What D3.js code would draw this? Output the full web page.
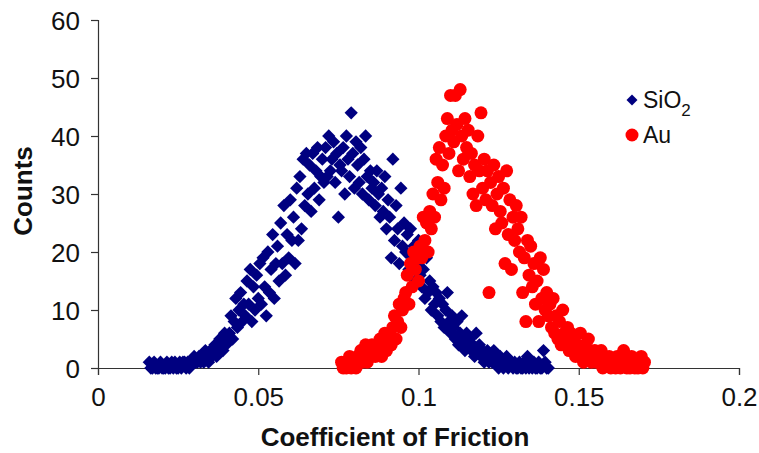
<!DOCTYPE html>
<html>
<head>
<meta charset="utf-8">
<script src="https://cdnjs.cloudflare.com/ajax/libs/d3/7.8.5/d3.min.js"></script>
<style>
  body { margin: 0; background: #fff; }
  text { font-family: "Liberation Sans", Arial, sans-serif; }
</style>
</head>
<body>
<div id="plot"></div>
<script>
// histogram bins (coefficient of friction), bin width
var binWidth = 0.0005;
var sio2Start = 0.016;
var auStart = 0.076;

var xTicks = [0, 0.05, 0.1, 0.15, 0.2];
var yTicks = [0, 10, 20, 30, 40, 50, 60];

// SiO2 counts, 0.016 .. 0.1405
var sio2Counts = [
  1,0,0,1,0,0,0,1,0,0,
  0,1,0,0,1,0,1,0,0,1,
  0,1,1,0,1,0,1,1,2,1,
  1,2,1,2,1,3,2,1,3,2,
  3,4,2,3,5,4,3,6,4,5,
  6,9,5,8,12,7,10,13,8,11,
  9,15,11,17,8,14,10,16,12,18,
  11,19,14,9,20,13,17,23,12,18,
  21,15,25,18,28,16,23,19,29,22,
  26,18,31,22,33,24,36,28,37,30,
  35,27,37,31,34,38,29,33,36,32,
  38,33,40,34,36,39,32,37,26,35,
  34,38,30,40,36,33,44,37,31,39,
  35,32,38,30,36,40,33,29,34,31,
  32,28,34,30,26,31,27,33,24,29,
  26,19,36,22,28,24,18,31,21,25,
  20,23,17,24,19,21,15,18,22,16,
  14,17,12,19,13,15,10,14,11,13,
  9,12,8,11,7,10,13,8,6,9,
  7,5,8,4,6,9,5,3,6,4,
  5,3,4,2,6,3,4,2,3,1,
  2,3,1,2,1,3,2,1,0,2,
  1,0,1,2,0,1,1,0,1,0,
  0,1,0,0,1,0,2,0,1,0,
  1,0,0,1,0,0,3,1,0,0
];

// Au counts, 0.076 .. 0.1705
var auCounts = [
  1,0,1,0,1,2,0,1,1,0,
  2,1,3,1,2,4,1,3,2,4,
  3,2,4,3,5,2,4,6,3,5,
  6,4,7,9,5,8,11,7,10,12,
  13,16,11,18,14,20,17,19,15,21,
  19,26,22,25,20,27,24,30,26,36,
  32,38,29,35,31,40,43,37,47,41,
  39,47,42,34,48,40,36,43,38,41,
  33,37,30,35,28,40,34,44,31,36,
  29,34,13,32,28,35,24,30,33,27,
  25,31,18,34,23,29,17,26,22,28,
  24,20,26,13,19,8,22,16,21,14,
  18,11,15,8,19,12,17,10,13,9,
  11,7,12,6,9,5,8,4,10,6,
  5,7,3,6,4,5,2,4,3,6,
  3,1,4,2,5,3,1,2,3,1,
  2,1,3,0,2,1,1,2,0,1,
  1,0,2,1,0,1,3,1,0,1,
  0,2,1,0,1,0,1,2,0,1
];

var seriesNames = ["SiO", "Au"];

var w = 759, h = 453;
var padL = 98, padR = 739, padT = 20, padB = 368;

var svg = d3.select("#plot")
    .append("svg")
    .attr("width", w)
    .attr("height", h);

var xScale = d3.scaleLinear().domain([0, 0.2]).range([padL, padR]);
var yScale = d3.scaleLinear().domain([0, 60]).range([padB, padT]);

var xAxis = d3.axisBottom(xScale).tickValues(xTicks).tickSize(7).tickPadding(8)
    .tickFormat(function (d) { return d === 0 ? "0" : String(+d.toFixed(2)); });
var yAxis = d3.axisLeft(yScale).tickValues(yTicks).tickSize(7).tickPadding(11);

var gx = svg.append("g")
    .attr("transform", "translate(0," + padB + ")")
    .call(xAxis);
var gy = svg.append("g")
    .attr("transform", "translate(" + padL + ",0)")
    .call(yAxis);

[gx, gy].forEach(function (g) {
    g.selectAll("path, line").attr("stroke", "#333").attr("stroke-width", 1.2);
    g.selectAll("text")
        .attr("font-size", 26)
        .attr("fill", "#111")
        .style("font-family", "'Liberation Sans', Arial, sans-serif");
});
gy.selectAll("text").attr("dy", "0.36em");
gx.selectAll("text").attr("dy", "0.9em");

// axis titles
svg.append("text")
    .attr("x", 395)
    .attr("y", 446)
    .attr("text-anchor", "middle")
    .attr("font-size", 26)
    .attr("font-weight", "bold")
    .attr("fill", "#111")
    .text("Coefficient of Friction");

svg.append("text")
    .attr("transform", "translate(32,191) rotate(-90)")
    .attr("text-anchor", "middle")
    .attr("font-size", 26)
    .attr("font-weight", "bold")
    .attr("fill", "#111")
    .text("Counts");

var sio2 = sio2Counts.map(function (c, i) { return { x: sio2Start + i * binWidth, y: c }; });
var au = auCounts.map(function (c, i) { return { x: auStart + i * binWidth, y: c }; });

var diamond = d3.symbol().type(d3.symbolSquare).size(88);

svg.append("g").selectAll("path")
    .data(sio2)
    .enter()
    .append("path")
    .attr("d", diamond)
    .attr("transform", function (d) {
        return "translate(" + xScale(d.x) + "," + yScale(d.y) + ") rotate(45)";
    })
    .attr("fill", "#000080");

svg.append("g").selectAll("circle")
    .data(au)
    .enter()
    .append("circle")
    .attr("cx", function (d) { return xScale(d.x); })
    .attr("cy", function (d) { return yScale(d.y); })
    .attr("r", 6.5)
    .attr("fill", "#ff0000");

// legend
var lg = svg.append("g");
lg.append("path")
    .attr("d", d3.symbol().type(d3.symbolSquare).size(60))
    .attr("transform", "translate(632,100) rotate(45)")
    .attr("fill", "#000080");
var t1 = lg.append("text")
    .attr("x", 643).attr("y", 108)
    .attr("font-size", 23)
    .attr("fill", "#111");
t1.append("tspan").text(seriesNames[0]);
t1.append("tspan").attr("dy", 8).attr("font-size", 17).text("2");

lg.append("circle")
    .attr("cx", 632).attr("cy", 135).attr("r", 6.5)
    .attr("fill", "#ff0000");
lg.append("text")
    .attr("x", 643).attr("y", 143)
    .attr("font-size", 23)
    .attr("fill", "#111")
    .text(seriesNames[1]);
</script>
</body>
</html>
